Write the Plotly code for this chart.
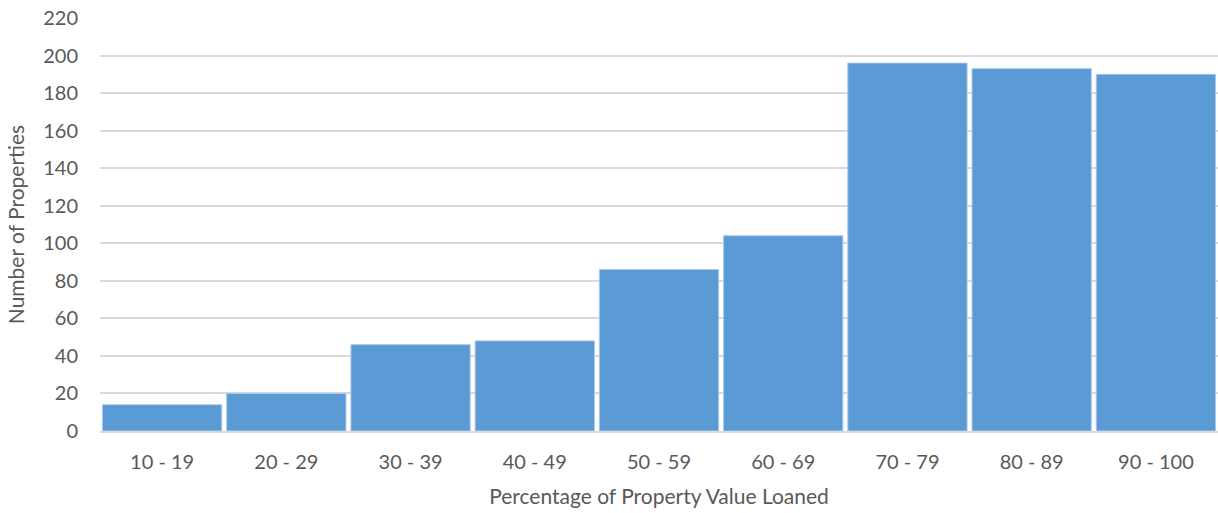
import plotly.graph_objects as go

categories = ["10 - 19", "20 - 29", "30 - 39", "40 - 49", "50 - 59",
              "60 - 69", "70 - 79", "80 - 89", "90 - 100"]
counts = [14, 20, 46, 48, 86, 104, 196, 193, 190]
y_ticks = list(range(0, 221, 20))

text_color = "#595959"
grid_color = "#D9D9D9"
font_family = "Lato, 'Open Sans', sans-serif"

fig = go.Figure(
    go.Bar(
        x=categories,
        y=counts,
        marker=dict(color="#5B9BD5", line=dict(color="#A9C8EA", width=1)),
        hoverinfo="x+y",
    )
)

fig.update_layout(
    width=1218,
    height=513,
    margin=dict(l=100, r=0, t=18, b=82),
    paper_bgcolor="white",
    plot_bgcolor="white",
    bargap=0.04,
    showlegend=False,
    font=dict(family=font_family, size=20, color=text_color),
)

fig.update_xaxes(
    showline=True,
    linecolor=grid_color,
    linewidth=2,
    ticks="",
    ticklabelstandoff=12,
    tickfont=dict(size=20, color=text_color),
    title=dict(text="Percentage of Property Value Loaned",
               font=dict(size=21, color=text_color), standoff=17),
)

fig.update_yaxes(
    range=[0, 220],
    tickvals=y_ticks,
    showgrid=True,
    gridcolor=grid_color,
    gridwidth=1.5,
    zeroline=False,
    ticks="",
    ticklabelstandoff=21,
    tickfont=dict(size=20, color=text_color),
    title=dict(text="Number of Properties",
               font=dict(size=21, color=text_color), standoff=12),
)

fig.write_html("out.html")
